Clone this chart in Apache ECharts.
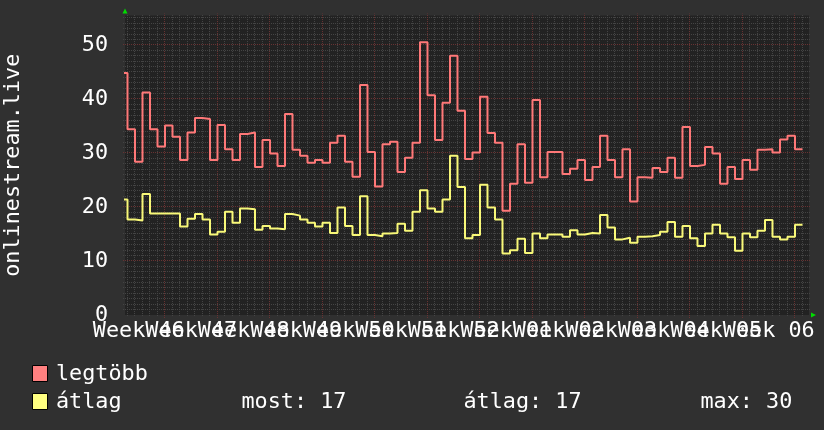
<!DOCTYPE html>
<html><head><meta charset="utf-8">
<script src="https://cdn.jsdelivr.net/npm/echarts@6/dist/echarts.min.js"></script>
<style>html,body{margin:0;padding:0;background:#303030;}#c{width:824px;height:430px;}</style>
</head><body><div id="c"></div>
<script>
// ---- data (one value per day, value i covers day interval [i-1, i]) ----
const legtobb = [44.8,34.4,28.4,41.2,34.4,31.2,35.1,33.0,28.7,33.8,
  36.5,36.3,28.7,35.2,30.7,28.7,33.5,33.8,27.4,32.4,
  29.9,27.6,37.2,30.6,29.5,28.2,28.7,28.2,31.9,33.2,
  28.4,25.6,42.6,30.2,23.8,31.6,32.1,26.5,29.1,31.9,
  50.5,40.7,32.4,39.3,48.0,37.8,28.9,30.1,40.4,33.7,
  31.9,19.3,24.3,31.6,24.5,39.8,25.5,30.2,30.2,26.1,
  27.1,28.7,25.0,27.4,33.2,28.7,25.5,30.7,21.0,25.5,
  25.4,27.2,26.5,29.1,25.4,34.8,27.6,27.8,31.1,29.9,
  24.3,27.4,25.2,28.7,26.9,30.6,30.7,30.1,32.5,33.2,30.7];
const atlag = [21.4,17.7,17.5,22.4,18.8,18.8,18.8,18.8,16.4,17.8,
  18.7,17.7,14.9,15.4,19.1,17.1,19.7,19.6,15.8,16.5,
  16.0,15.9,18.7,18.4,17.7,17.1,16.4,17.1,15.2,19.9,
  16.5,14.8,22.0,14.8,14.6,15.1,15.2,16.9,15.6,19.1,
  23.1,19.7,19.1,21.4,29.5,23.7,14.2,14.8,24.1,19.9,
  17.7,11.4,12.0,14.1,11.5,15.1,14.2,14.9,14.9,14.5,
  15.7,14.9,15.2,15.1,18.5,16.2,14.0,14.3,13.4,14.5,
  14.6,14.8,15.4,17.2,14.5,16.5,14.2,12.8,15.1,16.7,
  15.1,14.4,11.9,15.1,14.4,15.6,17.6,14.5,14.0,14.5,16.7];
const weekTicks = [5,12,19,26,33,40,47,54,61,68,75,82,89];
const weekLabels = ["Week 46","Week 47","Week 48","Week 49","Week 50","Week 51","Week 52",
  "Week 01","Week 02","Week 03","Week 04","Week 05","Week 06"];
const yTicks = [0,10,20,30,40,50];
const seriesNames = ["legtöbb","átlag"];
const seriesColors = ["#ff8080","#ffff80"];
const gprintLabels = ["most","átlag","max"];
const yTitle = "onlinestream.live";

// ---- layout / style ----
const FONT = '"DejaVu Sans Mono", monospace';
const FS = 21.8;
const xMin = -1/3, xMax = 90.87, yMax = 55.46;
const minorColor = '#444444', majorColor = '#683232';

function stepData(vals) {
  const d = vals.map((v, i) => [i - 1, v]);
  d.push([vals.length - 1, vals[vals.length - 1]]);
  return d;
}
// grid line items: [axis (0 = x, 1 = y), value, major]
const gridItems = [];
for (let d = Math.ceil(xMin); d <= Math.floor(xMax); d++) if (!weekTicks.includes(d)) gridItems.push([0, d, 0]);
for (let v = 1; v < yMax; v++) if (v % 10 !== 0) gridItems.push([1, v, 0]);
weekTicks.forEach(t => gridItems.push([0, t, 1]));
yTicks.filter(v => v > 0).forEach(v => gridItems.push([1, v, 1]));

function renderGrid(params, api) {
  const cs = params.coordSys;
  const axis = api.value(0), v = api.value(1), major = api.value(2);
  const style = {stroke: major ? majorColor : minorColor, lineWidth: 1, lineDash: [1, 1]};
  if (axis === 0) {
    const px = Math.floor(api.coord([v, 0])[0]) + 0.5;
    return {type: 'line', silent: true, shape: {x1: px, y1: cs.y + cs.height + (major ? 3 : 1), x2: px, y2: cs.y - (major ? 2 : 1)}, style};
  }
  const py = Math.floor(api.coord([0, v])[1]) + 0.5;
  return {type: 'line', silent: true, shape: {x1: cs.x - 2, y1: py, x2: cs.x + cs.width + 2, y2: py}, style};
}

// week labels are centred in the middle of each week
const labelItems = weekTicks.map((t, i) => [t - 3.5, i]);
function renderLabel(params, api) {
  const p = api.coord([api.value(0), 0]);
  return {type: 'text', silent: true, x: p[0], y: p[1] + 5,
    style: {text: weekLabels[api.value(1)], fill: '#ffffff', font: FS + 'px ' + FONT, align: 'center', verticalAlign: 'top'}};
}

const last = atlag[atlag.length - 1];
const avg = atlag.reduce((a, b) => a + b, 0) / atlag.length;
const mx = Math.max(...atlag);
const gprintValues = [last, avg, mx].map(v => Math.round(v).toString());

const chart = echarts.init(document.getElementById('c'));
chart.setOption({
  backgroundColor: '#303030',
  animation: false,
  textStyle: {fontFamily: FONT},
  grid: {left: 125, top: 15.5, width: 684, height: 299.5, show: true, backgroundColor: '#222222', borderWidth: 0,
    containLabel: false, outerBoundsMode: 'none'},
  xAxis: {
    type: 'value', min: xMin, max: xMax,
    axisLine: {show: false}, axisTick: {show: false}, splitLine: {show: false}, axisLabel: {show: false}
  },
  yAxis: {
    type: 'value', min: 0, max: yMax,
    name: yTitle, nameLocation: 'middle', nameRotate: 90, nameGap: 100.5,
    nameTextStyle: {color: '#ffffff', fontSize: FS, fontFamily: FONT},
    axisLine: {show: false}, axisTick: {show: false}, splitLine: {show: false},
    axisLabel: {customValues: yTicks, showMinLabel: true, showMaxLabel: true, color: '#ffffff', fontSize: FS, fontFamily: FONT, margin: 17}
  },
  series: [
    {type: 'custom', name: 'grid', data: gridItems, renderItem: renderGrid, z: 1, silent: true, clip: false},
    {type: 'custom', name: 'weeks', data: labelItems, renderItem: renderLabel, z: 2, silent: true, clip: false},
    {type: 'line', name: seriesNames[0], data: stepData(legtobb), step: 'end', symbol: 'none', z: 3,
      lineStyle: {color: '#ff7878', width: 2}, itemStyle: {color: seriesColors[0]}},
    {type: 'line', name: seriesNames[1], data: stepData(atlag), step: 'end', symbol: 'none', z: 4,
      lineStyle: {color: '#f8f878', width: 2}, itemStyle: {color: seriesColors[1]}}
  ]
});

const tl = chart.convertToPixel({gridIndex: 0}, [xMin, yMax]);
const br = chart.convertToPixel({gridIndex: 0}, [xMax, 0]);
const gx = [241.5, 463.5, 700.5];
const rowY = [374, 402];
const graphics = [
  {type: 'polygon', shape: {points: [[tl[0] - 2.5, tl[1] - 2], [tl[0] + 2.5, tl[1] - 2], [tl[0], tl[1] - 7]]}, style: {fill: '#00dd00'}, z: 10},
  {type: 'polygon', shape: {points: [[br[0] + 2, br[1] - 2.5], [br[0] + 2, br[1] + 2.5], [br[0] + 7, br[1]]]}, style: {fill: '#00dd00'}, z: 10}
];
seriesNames.forEach((n, i) => {
  graphics.push({type: 'rect', shape: {x: 32.5, y: rowY[i] - 8.5, width: 15, height: 16}, style: {fill: seriesColors[i], stroke: '#000000', lineWidth: 1}, z: 10});
  graphics.push({type: 'text', x: 56, y: rowY[i], style: {text: n, fill: '#ffffff', font: FS + 'px ' + FONT, verticalAlign: 'middle'}, z: 10});
});
gprintLabels.forEach((l, i) => graphics.push({
  type: 'text', x: gx[i], y: rowY[1],
  style: {text: l + ': ' + gprintValues[i], fill: '#ffffff', font: FS + 'px ' + FONT, verticalAlign: 'middle'}, z: 10
}));
chart.setOption({graphic: graphics});
</script>
</body></html>
